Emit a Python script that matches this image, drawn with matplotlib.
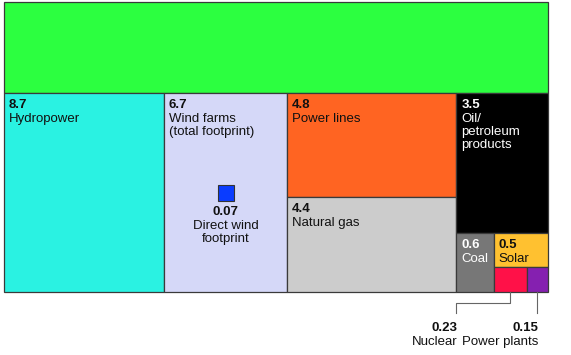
import matplotlib.pyplot as plt
from matplotlib.patches import Rectangle

plt.rcParams['font.family'] = ['Liberation Sans', 'DejaVu Sans']

# land footprint values (top green block has no visible label)
top_value = 13.6
hydro = 8.7
wind = 6.7
power_lines = 4.8
natural_gas = 4.4
oil = 3.5
coal = 0.6
solar = 0.5
nuclear = 0.23
power_plants = 0.15
direct_wind = 0.07

names = ["", "Hydropower", "Wind farms\n(total footprint)", "Power lines", "Natural gas",
         "Oil/\npetroleum\nproducts", "Coal", "Solar", "Nuclear", "Power plants"]
values = [top_value, hydro, wind, power_lines, natural_gas, oil, coal, solar, nuclear, power_plants]
colors = ["#2cff40", "#2af2e2", "#d5d8f8", "#ff6422", "#cccccc", "#000000",
          "#777777", "#ffc130", "#ff1148", "#8520b0"]
text_colors = ["#111", "#111", "#111", "#111", "#111", "white", "white", "#111", "#111", "#111"]
FS = 9.5

fig = plt.figure(figsize=(5.71, 3.55), dpi=100)
ax = fig.add_axes([0, 0, 1, 1])
ax.set_xlim(0, 571)
ax.set_ylim(355, 0)
ax.axis('off')

X0, Y0, W, H = 4, 2, 544, 290
total = sum(values)
unit = W * H / total


def hsplit(x, y, w, h, parts):
    out = []
    s = sum(parts)
    for p in parts:
        ww = w * p / s
        out.append((x, y, ww, h))
        x += ww
    return out


def vsplit(x, y, w, h, parts):
    out = []
    s = sum(parts)
    for p in parts:
        hh = h * p / s
        out.append((x, y, w, hh))
        y += hh
    return out


top, bottom = vsplit(X0, Y0, W, H, [top_value, total - top_value])
c1, c2, c3, c4 = hsplit(*bottom, [hydro, wind, power_lines + natural_gas,
                                  oil + coal + solar + nuclear + power_plants])
r_pl, r_gas = vsplit(*c3, [power_lines, natural_gas])
r_oil, r_small = vsplit(*c4, [oil, coal + solar + nuclear + power_plants])
r_coal, r_rest = hsplit(*r_small, [coal, solar + nuclear + power_plants])
r_solar, r_np = vsplit(*r_rest, [solar, nuclear + power_plants])
r_nuc, r_pp = hsplit(*r_np, [nuclear, power_plants])

rects = [top, c1, c2, r_pl, r_gas, r_oil, r_coal, r_solar, r_nuc, r_pp]

for i, (x, y, w, h) in enumerate(rects):
    ax.add_patch(Rectangle((x, y), w, h, facecolor=colors[i], edgecolor="#3a3a3a", lw=0.9))
    if names[i] and i < 8:
        ax.text(x + 5, y + 6, f"{values[i]:g}", fontsize=FS, fontweight='bold',
                color=text_colors[i], va='top', ha='left')
        ax.text(x + 5, y + 20, names[i], fontsize=FS, color=text_colors[i],
                va='top', ha='left', linespacing=1.1)

# direct wind footprint square
x, y, w, h = c2
side = (direct_wind * unit) ** 0.5
cx, cy = x + w / 2, y + h / 2
ax.add_patch(Rectangle((cx - side / 2, cy - side / 2), side, side,
                       facecolor="#0a3cff", edgecolor="#333", lw=0.8))
ax.text(cx, cy + side / 2 + 5, f"{direct_wind:g}", fontsize=FS, fontweight='bold',
        color="#111", ha='center', va='top')
ax.text(cx, cy + side / 2 + 19, "Direct wind\nfootprint", fontsize=FS, color="#111",
        ha='center', va='top', linespacing=1.1)

# leader lines for the small blocks
lc = "#666"
x, y, w, h = r_nuc
nx = x + w / 2
yb = y + h
ax.plot([nx, nx, r_coal[0], r_coal[0]], [yb, yb + 11, yb + 11, yb + 21], color=lc, lw=0.8)
ax.text(r_coal[0] + 1, yb + 30, f"{nuclear:g}", fontsize=FS, fontweight='bold',
        color="#111", ha='right', va='top')
ax.text(r_coal[0] + 1, yb + 44, names[8], fontsize=FS, color="#111", ha='right', va='top')

x, y, w, h = r_pp
px = x + w / 2
ax.plot([px, px], [yb, yb + 21], color=lc, lw=0.8)
ax.text(px + 1, yb + 30, f"{power_plants:g}", fontsize=FS, fontweight='bold',
        color="#111", ha='right', va='top')
ax.text(px + 1, yb + 44, names[9], fontsize=FS, color="#111", ha='right', va='top')

fig.savefig("out.png", dpi=100)
